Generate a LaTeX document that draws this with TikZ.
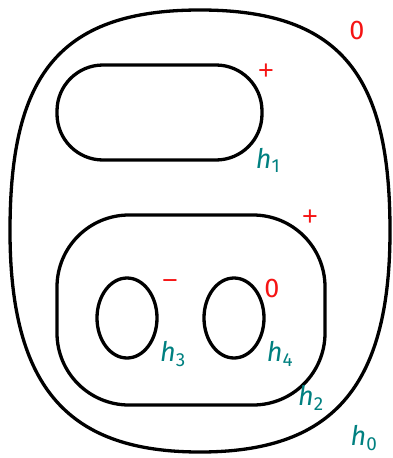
\documentclass[tikz,border=0pt]{standalone}
\usepackage{fontspec}
\setmainfont{Fira Sans}
\newfontfamily\signfont{Liberation Sans}
\usepackage{xcolor}
\definecolor{signred}{RGB}{245,20,20}
\definecolor{hteal}{RGB}{0,128,128}

\newcommand{\hlab}[1]{\textit{h}\textsubscript{#1}}

\begin{document}
\begin{tikzpicture}[x=1pt, y=-1pt,
      loop/.style={draw=black, line width=3.3pt},
      sgn/.style={text=signred, font=\fontsize{27}{30}\selectfont, inner sep=0pt},
      pm/.style={sgn, font=\signfont\fontsize{27}{30}\selectfont},
      hname/.style={text=hteal, font=\fontsize{27}{30}\selectfont, inner sep=0pt}]
    \useasboundingbox (0,0) rectangle (393,458);
    % curves
    \draw[loop] (200,10) .. controls (345,10) and (390,80) .. (390,231)
                         .. controls (390,390) and (330,452) .. (200,452)
                         .. controls (70,452) and (10,390) .. (10,231)
                         .. controls (10,80) and (55,10) .. (200,10) -- cycle;
    \draw[loop, rounded corners=46pt] (57,65) rectangle (262,160);
    \draw[loop, rounded corners=72pt] (57,215) rectangle (325,405);
    \draw[loop] (127,318) ellipse [x radius=30pt, y radius=40pt];
    \draw[loop] (234,318) ellipse [x radius=30pt, y radius=40pt];
    % labels
    \node[sgn] (s0) at (357,30) {0};
    \node[pm] (s1) at (266,72) {+};
    \node[pm] (s2) at (310,218) {+};
    \node[pm] (s3) at (170,285) {−};
    \node[sgn] (s4) at (272,288) {0};
    \node[hname] (h0) at (364,438) {\hlab{0}};
    \node[hname] (h1) at (268,160) {\hlab{1}};
    \node[hname] (h2) at (311,398) {\hlab{2}};
    \node[hname] (h3) at (173,354) {\hlab{3}};
    \node[hname] (h4) at (280,354) {\hlab{4}};
  \end{tikzpicture}
\end{document}
